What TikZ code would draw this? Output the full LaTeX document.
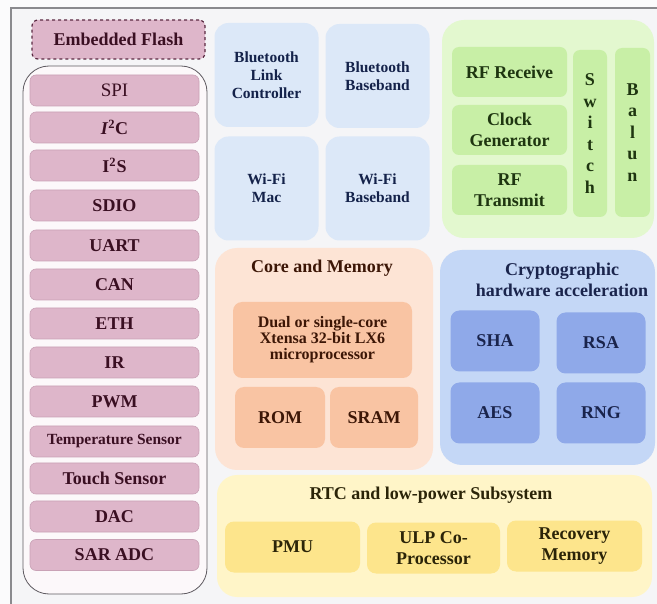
\documentclass[tikz,border=0pt]{standalone}
\usepackage{fontspec}
\setmainfont{Liberation Serif}
\definecolor{outerbg}{HTML}{FBFBFC}
\definecolor{pagebg}{HTML}{F5F5F7}
\definecolor{framegray}{HTML}{8A8A8E}
\definecolor{pinkfill}{HTML}{DEB6CA}
\definecolor{pinkedge}{HTML}{C9A2B6}
\definecolor{pinktext}{HTML}{3A0F22}
\definecolor{flashedge}{HTML}{5A2A42}
\definecolor{contfill}{HTML}{FCF8FA}
\definecolor{contedge}{HTML}{5E5A60}
\definecolor{bluefill}{HTML}{DCE8F8}
\definecolor{bluetext}{HTML}{14224A}
\definecolor{greenout}{HTML}{E3F8CF}
\definecolor{greenin}{HTML}{C8EFA6}
\definecolor{greentext}{HTML}{1E3510}
\definecolor{coreout}{HTML}{FDE4D5}
\definecolor{corein}{HTML}{F9C4A3}
\definecolor{coretext}{HTML}{3C1606}
\definecolor{cryptout}{HTML}{C4D7F6}
\definecolor{cryptin}{HTML}{8FA9E9}
\definecolor{crypttext}{HTML}{1A244C}
\definecolor{rtcout}{HTML}{FFF5C8}
\definecolor{rtcin}{HTML}{FDE58C}
\definecolor{rtctext}{HTML}{2B2408}
\begin{document}
\begin{tikzpicture}[x=1pt, y=-1pt,
  every node/.style={inner sep=0pt, align=center},
  fbig/.style={font=\bfseries\fontsize{18}{21.5}\selectfont},
  fmid/.style={font=\bfseries\fontsize{15.5}{18}\selectfont},
  pbox/.style={fill=pinkfill, draw=pinkedge, line width=0.6pt, rounded corners=6pt,
    minimum width=169pt, minimum height=31pt, text=pinktext, fbig},
  bbox/.style={fill=bluefill, rounded corners=14pt, minimum width=104pt,
    minimum height=104pt, text=bluetext, fmid},
  gbox/.style={fill=greenin, rounded corners=7pt, text=greentext, fbig},
  cbox/.style={fill=corein, rounded corners=9pt, text=coretext, fbig},
  kbox/.style={fill=cryptin, rounded corners=9pt, minimum width=89pt,
    minimum height=61pt, text=crypttext, fbig},
  rbox/.style={fill=rtcin, rounded corners=9pt, minimum height=51pt, text=rtctext, fbig},
  title/.style={fbig}
]
% page and frame
\path[use as bounding box] (0,0) rectangle (657,604);
\fill[outerbg] (0,0) rectangle (657,604);
\fill[pagebg] (11,8) rectangle (657,604);
\draw[framegray, line width=1.2pt] (11,604) -- (11,8) -- (657,8);

% embedded flash and peripheral column
\node[fill=pinkfill, draw=flashedge, dashed, line width=1.2pt, rounded corners=6pt,
  minimum width=173pt, minimum height=39pt, text=pinktext, fbig] (flash) at (118.5,39.5) {Embedded Flash};
\node[fill=contfill, draw=contedge, line width=0.8pt, rounded corners=26pt,
  minimum width=184pt, minimum height=528pt] (periph) at (115,330) {};
\node[pbox, font=\fontsize{19}{21}\selectfont] (spi) at (114.5,90.5) {SPI};
\node[pbox] (iic) at (114.5,127.5) {\textit{I}\textsuperscript{2}C};
\node[pbox] (iis) at (114.5,165.5) {I\textsuperscript{2}\kern0.5pt S};
\node[pbox] (sdio) at (114.5,205.5) {SDIO};
\node[pbox] (uart) at (114.5,245.5) {UART};
\node[pbox] (can) at (114.5,284.5) {CAN};
\node[pbox] (eth) at (114.5,323.5) {ETH};
\node[pbox] (ir) at (114.5,362.5) {IR};
\node[pbox] (pwm) at (114.5,401.5) {PWM};
\node[pbox, font=\bfseries\fontsize{15.5}{18}\selectfont] (temp) at (114.5,441.5) {Temperature Sensor};
\node[pbox] (touch) at (114.5,478.5) {Touch Sensor};
\node[pbox] (dac) at (114.5,516.5) {DAC};
\node[pbox] (adc) at (114.5,555) {SAR ADC};

% bluetooth and wi-fi blocks
\node[bbox] (btlc) at (266.5,75) {Bluetooth\\Link\\Controller};
\node[bbox] (btbb) at (377.5,76) {Bluetooth\\Baseband};
\node[bbox] (wmac) at (266.5,188.5) {Wi-Fi\\Mac};
\node[bbox] (wbb) at (377.5,188.5) {Wi-Fi\\Baseband};

% radio front end
\node[fill=greenout, rounded corners=22pt, minimum width=212pt, minimum height=218pt] (rf) at (548,129) {};
\node[gbox, minimum width=115pt, minimum height=50pt] (rfrx) at (509.5,72) {RF Receive};
\node[gbox, minimum width=115pt, minimum height=50pt] (clk) at (509.5,130) {Clock\\Generator};
\node[gbox, minimum width=115pt, minimum height=50pt] (rftx) at (509.5,190) {RF\\Transmit};
\node[gbox, minimum width=34pt, minimum height=167pt] (sw) at (590,133.5) {S\\w\\i\\t\\c\\h};
\node[gbox, minimum width=35pt, minimum height=169pt] (balun) at (632.5,132.5) {B\\a\\l\\u\\n};

% core and memory
\node[fill=coreout, rounded corners=22pt, minimum width=218pt, minimum height=222pt] (core) at (324,359) {};
\node[title, text=coretext] (coret) at (322,268) {Core and Memory};
\node[cbox, minimum width=179pt, minimum height=76pt, font=\bfseries\fontsize{16}{16}\selectfont] (cpu) at (322.5,340)
  {Dual or single-core\\Xtensa 32-bit LX6\\microprocessor};
\node[cbox, minimum width=90pt, minimum height=61pt] (rom) at (280,417.5) {ROM};
\node[cbox, minimum width=88pt, minimum height=61pt] (sram) at (374,417.5) {SRAM};

% cryptographic acceleration
\node[fill=cryptout, rounded corners=22pt, minimum width=215pt, minimum height=215pt] (crypt) at (547.5,357.5) {};
\node[title, text=crypttext] (cryptt) at (562,280) {Cryptographic\\hardware acceleration};
\node[kbox] (sha) at (495,341) {SHA};
\node[kbox] (rsa) at (601,343) {RSA};
\node[kbox] (aes) at (495,413) {AES};
\node[kbox] (rng) at (601,413) {RNG};

% rtc and low-power subsystem
\node[fill=rtcout, rounded corners=20pt, minimum width=435pt, minimum height=122pt] (rtc) at (434.5,536) {};
\node[title, text=rtctext] (rtct) at (431,495) {RTC and low-power Subsystem};
\node[rbox, minimum width=135pt] (pmu) at (292.5,547) {PMU};
\node[rbox, minimum width=133pt] (ulp) at (433.5,548) {ULP Co-\\Processor};
\node[rbox, minimum width=135pt] (rec) at (574.5,546) {Recovery\\Memory};
\end{tikzpicture}
\end{document}
